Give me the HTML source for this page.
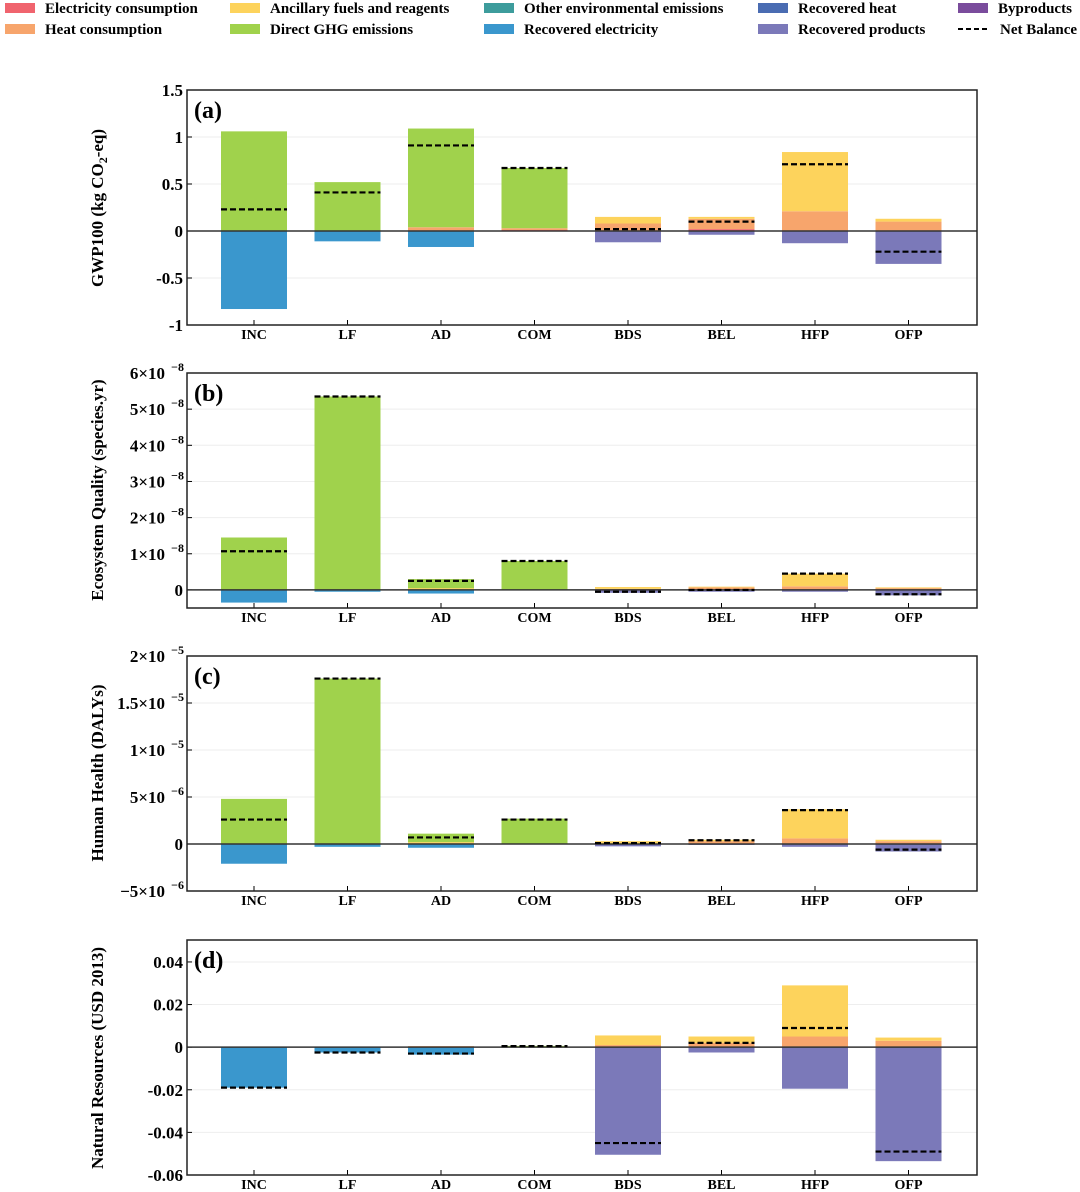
<!DOCTYPE html>
<html><head><meta charset="utf-8"><style>
body{margin:0;background:#fff;}
svg{display:block;font-family:"Liberation Serif",serif;font-weight:bold;}
</style></head><body>
<svg id="chart" width="1080" height="1192"></svg>
<script>
const categories=["INC","LF","AD","COM","BDS","BEL","HFP","OFP"];
const seriesNames=["Electricity consumption","Heat consumption","Ancillary fuels and reagents","Direct GHG emissions","Other environmental emissions","Recovered electricity","Recovered heat","Recovered products","Byproducts"];
const seriesColors=["#f0646e","#f7a56c","#fdd35c","#a0d24c","#3d9c9c","#3a97cd","#4a6cb2","#7b79b9","#7a4c9c"];
const gwpData=[
[0,0,0,1.06,0,-0.83,0,0,0],
[0,0,0,0.52,0,-0.11,0,0,0],
[0,0.04,0,1.05,0,-0.17,0,0,0],
[0.01,0.02,0,0.64,0,0,0,0,0],
[0,0.08,0.07,0,0,0,0,-0.12,0],
[0.02,0.11,0.02,0,0,0,0,-0.04,0],
[0,0.21,0.63,0,0,0,0,-0.13,0],
[0,0.10,0.03,0,0,0,0,-0.35,0]];
const gwpNet=[0.23,0.41,0.91,0.67,0.02,0.10,0.71,-0.22];
const eqData=[
[0,0,0,1.45,0,-0.35,0,0,0],
[0,0,0,5.35,0,-0.05,0,0,0],
[0,0,0.05,0.25,0,-0.1,0,0,0],
[0,0,0,0.8,0,0,0,0,0],
[0,0.03,0.05,0,0,0,0,-0.08,0],
[0,0.07,0.02,0,0,0,0,-0.05,0],
[0,0.1,0.35,0,0,0,0,-0.05,0],
[0,0.05,0.02,0,0,0,0,-0.15,0]];
const eqNet=[1.07,5.35,0.25,0.8,-0.05,0.0,0.45,-0.12];
const hhData=[
[0,0,0,4.8,0,-2.1,0,0,0],
[0,0,0,17.6,0,-0.3,0,0,0],
[0,0,0.2,0.9,0,-0.4,0,0,0],
[0,0,0,2.7,0,0,0,0,0],
[0,0,0.3,0,0,0,0,-0.25,0],
[0,0.3,0.15,0,0,0,0,-0.1,0],
[0,0.6,3.1,0,0,0,0,-0.3,0],
[0,0.3,0.15,0,0,0,0,-0.8,0]];
const hhNet=[2.6,17.6,0.7,2.6,0.1,0.4,3.6,-0.6];
const nrData=[
[0,0,0,0,0,-0.019,0,0,0],
[0,0,0,0,0,-0.0025,0,0,0],
[0,0.0005,0,0,0,-0.0035,0,0,0],
[0,0.0003,0,0.0003,0,0,0,0,0],
[0,0.001,0.0045,0,0,0,0,-0.0505,0],
[0,0.002,0.003,0,0,0,0,-0.0025,0],
[0,0.005,0.024,0,0,0,0,-0.0195,0],
[0,0.003,0.0015,0,0,0,0,-0.0535,0]];
const nrNet=[-0.019,-0.0025,-0.003,0.0005,-0.045,0.002,0.009,-0.049];
const aTicks=[1.5,1,0.5,0,-0.5,-1];
const aLabels=["1.5","1","0.5","0","-0.5","-1"];
const bTicks=[6,5,4,3,2,1,0];
const bLabels=["6×10","5×10","4×10","3×10","2×10","1×10","0"];
const bExp=["−8","−8","−8","−8","−8","−8",""];
const cTicks=[20,15,10,5,0,-5];
const cLabels=["2×10","1.5×10","1×10","5×10","0","−5×10"];
const cExp=["−5","−5","−5","−6","","−6"];
const dTicks=[0.04,0.02,0,-0.02,-0.04,-0.06];
const dLabels=["0.04","0.02","0","-0.02","-0.04","-0.06"];

const NS="http://www.w3.org/2000/svg";
const svg=document.getElementById('chart');
function mk(tag,attrs,parent,text){const e=document.createElementNS(NS,tag);for(const k in attrs)e.setAttribute(k,attrs[k]);if(text!==undefined)e.textContent=text;(parent||svg).appendChild(e);return e;}

const legX=[5,230,484,758,958];
const legend=mk('g',{});


const legOrder=[0,2,4,6,8,1,3,5,7];
legOrder.forEach((s,i)=>{
  const col=i<5?i:i-5, row=i<5?0:1;
  const g=mk('g',{},legend);
  
  
  mk('rect',{x:legX[col],y:3+row*21,width:30,height:10,fill:seriesColors[s]},g);
  mk('text',{x:legX[col]+40,y:13+row*21,'font-size':15},g,seriesNames[s]);
});
{const g=mk('g',{},legend);


mk('line',{x1:958,x2:988,y1:29,y2:29,stroke:'#000','stroke-width':2,'stroke-dasharray':'5,3'},g);
mk('text',{x:1000,y:34,'font-size':15},g,'Net Balance');}

const X0=187,X1=977,catX=i=>254+i*93.5,BW=66;
function panel(cfg){
  const {top,bot,min,max,data,net,ticks,labels,exps,tag,title,name,titleY}=cfg;
  const g=mk('g',{});
  
  
  const y=v=>top+(max-v)/(max-min)*(bot-top);
  ticks.forEach((t,i)=>{
    mk('line',{x1:X0,x2:X1,y1:y(t),y2:y(t),stroke:'#eee','stroke-width':1},g);
    mk('line',{x1:X0,x2:X0+5,y1:y(t),y2:y(t),stroke:'#000'},g);
    const tx=mk('text',{x:X0-4,y:y(t)+6,'font-size':17,'text-anchor':'end'},g);
    
    
    if(exps&&exps[i]){tx.setAttribute('x',X0-22);tx.textContent=labels[i];mk('text',{x:X0-3,y:y(t)-2,'font-size':12,'text-anchor':'end'},g,exps[i]);}
    else tx.textContent=labels[i];
  });
  data.forEach((row,c)=>{
    let pos=0,neg=0;
    row.forEach((v,s)=>{
      if(!v)return;
      let y0,y1;
      if(v>0){y0=pos;y1=pos+v;pos=y1;}else{y0=neg;y1=neg+v;neg=y1;}
      const r=mk('rect',{x:catX(c)-BW/2,y:Math.min(y(y0),y(y1)),width:BW,height:Math.abs(y(y1)-y(y0)),fill:seriesColors[s]},g);
      
      
    });
  });
  mk('line',{x1:X0,x2:X1,y1:y(0),y2:y(0),stroke:'#333','stroke-width':1.5},g);
  net.forEach((v,c)=>{
    const l=mk('line',{x1:catX(c)-BW/2,x2:catX(c)+BW/2,y1:y(v),y2:y(v),stroke:'#000','stroke-width':2.2,'stroke-dasharray':'6,3'},g);
    
    
  });
  categories.forEach((c,i)=>{
    mk('line',{x1:catX(i),x2:catX(i),y1:bot,y2:bot-5,stroke:'#000'},g);
    const t=mk('text',{x:catX(i),y:bot+14,'font-size':14,'text-anchor':'middle'},g,c);
    
    
  });
  mk('rect',{x:X0,y:top,width:X1-X0,height:bot-top,fill:'none',stroke:'#222','stroke-width':1.5},g);
  const tg=mk('text',{x:X0+7,y:top+28,'font-size':24},g,tag);
  
  
  const yt=mk('text',{x:0,y:0,'font-size':17,'text-anchor':'middle',transform:`translate(103,${titleY}) rotate(-90)`},g);
  
  
  yt.innerHTML=title;
}
panel({top:90,bot:325,min:-1,max:1.5,data:gwpData,net:gwpNet,ticks:aTicks,labels:aLabels,tag:'(a)',title:'GWP100 (kg CO<tspan font-size="12" dy="4">2</tspan><tspan dy="-4">-eq)</tspan>',name:'panel-a-gwp',titleY:208});
panel({top:373,bot:608,min:-0.5,max:6,data:eqData,net:eqNet,ticks:bTicks,labels:bLabels,exps:bExp,tag:'(b)',title:'Ecosystem Quality (species.yr)',name:'panel-b-ecosystem',titleY:490});
panel({top:656,bot:891,min:-5,max:20,data:hhData,net:hhNet,ticks:cTicks,labels:cLabels,exps:cExp,tag:'(c)',title:'Human Health (DALYs)',name:'panel-c-health',titleY:773});
panel({top:940,bot:1175,min:-0.06,max:0.0503,data:nrData,net:nrNet,ticks:dTicks,labels:dLabels,tag:'(d)',title:'Natural Resources (USD 2013)',name:'panel-d-resources',titleY:1058});
</script>
</body></html>
